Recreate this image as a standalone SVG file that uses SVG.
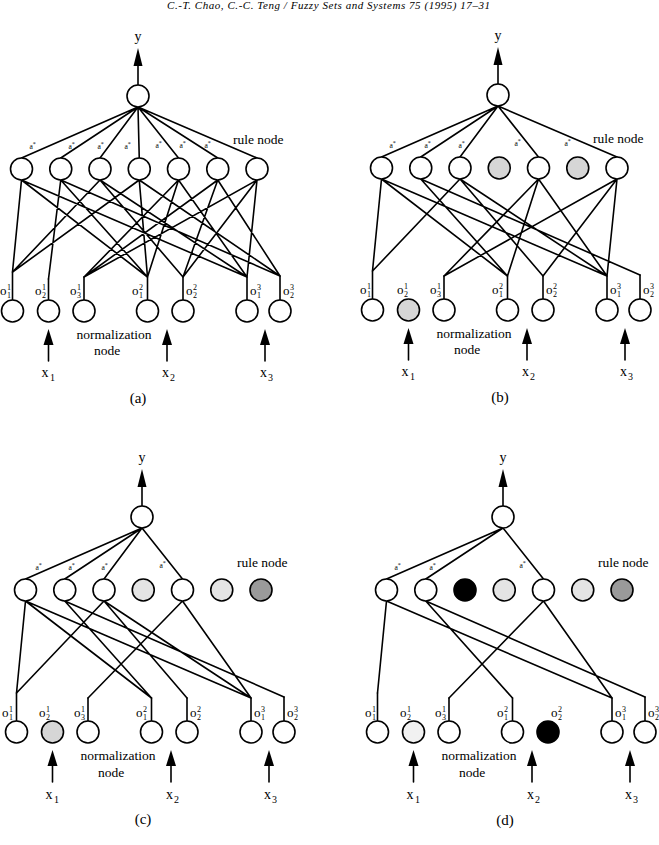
<svg xmlns="http://www.w3.org/2000/svg" width="659" height="845" viewBox="0 0 659 845">
<style>
.ln{stroke:#000;stroke-width:1.6;fill:none;stroke-linecap:round}
.nd{stroke:#000;stroke-width:1.6;fill:#fff}
.lt{fill:#d6d6d6}
.lt2{fill:#e4e4e4}
.lt3{fill:#f1f1f1}
.dk{fill:#9a9a9a}
.bk{fill:#000}
.ah{fill:#000;stroke:none}
.t{font-family:"Liberation Serif","Times New Roman",serif;fill:#000}
.big{font-size:14px}
.cap{font-size:15px}
.lbl{font-size:13.5px}
.o{font-size:13px}
.d{font-size:8px}
.s{font-size:10px}
.as{font-size:7.5px}
.ast{font-size:6px}
.hd{font-size:11px;font-style:italic}
</style>
<text class="t hd" x="167" y="9" textLength="323">C.-T. Chao, C.-C. Teng / Fuzzy Sets and Systems 75 (1995) 17–31</text>

<!-- ================= PANEL A ================= -->
<g id="panel-a">
<g id="a-connectors" class="ln">
<path d="M138,66V85 M138,107L21.5,158 M138,107L60.75,158 M138,107L100,158 M138,107L139.25,158 M138,107L178.5,158 M138,107L217.75,158 M138,107L257,158"/>
<path d="M21.5,180L12.5,272 M21.5,180L147.5,277 M21.5,180L247,277 M60.75,180L48.5,279 M60.75,180L147.5,277 M60.75,180L280,276 M100,180L12.5,272 M100,180L183,277 M100,180L247,277 M139.25,180L12.5,272 M139.25,180L147.5,277 M139.25,180L280,276 M178.5,180L84,277 M178.5,180L147.5,277 M178.5,180L247,277 M217.75,180L84,277 M217.75,180L183,277 M217.75,180L280,276 M257,180L84,277 M257,180L183,277 M257,180L247,277"/>
<path d="M12.5,272V300 M48.5,279V300 M84,277V300 M147.5,277V300 M183,277V300 M247,277V300 M280,276V300"/>
<path d="M48.5,345V361 M167,345V361 M265,345V361"/>
<polygon class="ah" points="138,48 133.5,66 142.5,66"/>
<polygon class="ah" points="48.5,329 43.5,345 53.5,345"/>
<polygon class="ah" points="167,329 162,345 172,345"/>
<polygon class="ah" points="265,329 260,345 270,345"/>
</g>
<g id="a-weights">
<text class="t as" x="29.5" y="149">a<tspan class="ast" dy="-3.5">*</tspan></text>
<text class="t as" x="68.5" y="149">a<tspan class="ast" dy="-3.5">*</tspan></text>
<text class="t as" x="97.5" y="149">a<tspan class="ast" dy="-3.5">*</tspan></text>
<text class="t as" x="124.5" y="149">a<tspan class="ast" dy="-3.5">*</tspan></text>
<text class="t as" x="155.5" y="148">a<tspan class="ast" dy="-3.5">*</tspan></text>
<text class="t as" x="179.5" y="148">a<tspan class="ast" dy="-3.5">*</tspan></text>
<text class="t as" x="204.5" y="148">a<tspan class="ast" dy="-3.5">*</tspan></text>
</g>
<g id="a-out"><circle class="nd" cx="138" cy="96" r="11"/><text class="t big" x="138" y="41" text-anchor="middle">y</text></g>
<g id="a-r1"><circle class="nd" cx="21.5" cy="169" r="11"/></g>
<g id="a-r2"><circle class="nd" cx="60.75" cy="169" r="11"/></g>
<g id="a-r3"><circle class="nd" cx="100" cy="169" r="11"/></g>
<g id="a-r4"><circle class="nd" cx="139.25" cy="169" r="11"/></g>
<g id="a-r5"><circle class="nd" cx="178.5" cy="169" r="11"/></g>
<g id="a-r6"><circle class="nd" cx="217.75" cy="169" r="11"/></g>
<g id="a-r7"><circle class="nd" cx="257" cy="169" r="11"/><text class="t lbl" x="233" y="144">rule node</text></g>
<g id="a-o11"><circle class="nd" cx="12.5" cy="311" r="11"/><text class="t o" x="0" y="295">o<tspan class="d" x="7" y="289.5">1</tspan><tspan class="d" x="7" y="297.5">1</tspan></text></g>
<g id="a-o21"><circle class="nd" cx="48.5" cy="311" r="11"/><text class="t o" x="35" y="295">o<tspan class="d" x="42" y="289.5">1</tspan><tspan class="d" x="42" y="297.5">2</tspan></text></g>
<g id="a-o31"><circle class="nd" cx="84" cy="311" r="11"/><text class="t o" x="70" y="295">o<tspan class="d" x="77" y="289.5">1</tspan><tspan class="d" x="77" y="297.5">3</tspan></text></g>
<g id="a-o12"><circle class="nd" cx="147.5" cy="311" r="11"/><text class="t o" x="132" y="295">o<tspan class="d" x="139" y="289.5">2</tspan><tspan class="d" x="139" y="297.5">1</tspan></text></g>
<g id="a-o22"><circle class="nd" cx="183" cy="311" r="11"/><text class="t o" x="186" y="295">o<tspan class="d" x="193" y="289.5">2</tspan><tspan class="d" x="193" y="297.5">2</tspan></text></g>
<g id="a-o13"><circle class="nd" cx="247" cy="311" r="11"/><text class="t o" x="250" y="295">o<tspan class="d" x="257" y="289.5">3</tspan><tspan class="d" x="257" y="297.5">1</tspan></text></g>
<g id="a-o23"><circle class="nd" cx="280" cy="311" r="11"/><text class="t o" x="283" y="295">o<tspan class="d" x="290" y="289.5">3</tspan><tspan class="d" x="290" y="297.5">2</tspan></text></g>
<g id="a-texts">
<text class="t lbl" x="114" y="339" text-anchor="middle">normalization</text>
<text class="t lbl" x="107" y="355" text-anchor="middle">node</text>
<text class="t big" x="41.5" y="377">x<tspan class="s" x="50" y="381">1</tspan></text>
<text class="t big" x="162" y="377">x<tspan class="s" x="170" y="381">2</tspan></text>
<text class="t big" x="260" y="377">x<tspan class="s" x="268" y="381">3</tspan></text>
<text class="t cap" x="138" y="403" text-anchor="middle">(a)</text>
</g>
</g>

<!-- ================= PANEL B ================= -->
<g id="panel-b" transform="translate(360,-1)">
<g id="b-connectors" class="ln">
<path d="M138,66V85 M138,107L21.5,158 M138,107L60.75,158 M138,107L100,158 M138,107L178.5,158 M138,107L257,158"/>
<path d="M21.5,180L12.5,272 M21.5,180L147.5,277 M21.5,180L247,277 M60.75,180L147.5,277 M60.75,180L280,276 M100,180L12.5,272 M100,180L183,277 M100,180L247,277 M178.5,180L84,277 M178.5,180L147.5,277 M178.5,180L247,277 M257,180L84,277 M257,180L183,277 M257,180L247,277"/>
<path d="M12.5,272V300 M84,277V300 M147.5,277V300 M183,277V300 M247,277V300 M280,276V300"/>
<path d="M48.5,345V361 M167,345V361 M265,345V361"/>
<polygon class="ah" points="138,48 133.5,66 142.5,66"/>
<polygon class="ah" points="48.5,329 43.5,345 53.5,345"/>
<polygon class="ah" points="167,329 162,345 172,345"/>
<polygon class="ah" points="265,329 260,345 270,345"/>
</g>
<g id="b-weights">
<text class="t as" x="29.5" y="149">a<tspan class="ast" dy="-3.5">*</tspan></text>
<text class="t as" x="64.5" y="149">a<tspan class="ast" dy="-3.5">*</tspan></text>
<text class="t as" x="98.5" y="149">a<tspan class="ast" dy="-3.5">*</tspan></text>
<text class="t as" x="154.5" y="147">a<tspan class="ast" dy="-3.5">*</tspan></text>
<text class="t as" x="204.5" y="147">a<tspan class="ast" dy="-3.5">*</tspan></text>
</g>
<g id="b-out"><circle class="nd" cx="138" cy="96" r="11"/><text class="t big" x="138" y="41" text-anchor="middle">y</text></g>
<g id="b-r1"><circle class="nd" cx="21.5" cy="169" r="11"/></g>
<g id="b-r2"><circle class="nd" cx="60.75" cy="169" r="11"/></g>
<g id="b-r3"><circle class="nd" cx="100" cy="169" r="11"/></g>
<g id="b-r4"><circle class="nd lt" cx="139.25" cy="169" r="11"/></g>
<g id="b-r5"><circle class="nd" cx="178.5" cy="169" r="11"/></g>
<g id="b-r6"><circle class="nd lt" cx="217.75" cy="169" r="11"/></g>
<g id="b-r7"><circle class="nd" cx="257" cy="169" r="11"/><text class="t lbl" x="233" y="144">rule node</text></g>
<g id="b-o11"><circle class="nd" cx="12.5" cy="311" r="11"/><text class="t o" x="0" y="295">o<tspan class="d" x="7" y="289.5">1</tspan><tspan class="d" x="7" y="297.5">1</tspan></text></g>
<g id="b-o21"><circle class="nd lt" cx="48.5" cy="311" r="11"/><text class="t o" x="37" y="295">o<tspan class="d" x="44" y="289.5">1</tspan><tspan class="d" x="44" y="297.5">2</tspan></text></g>
<g id="b-o31"><circle class="nd" cx="84" cy="311" r="11"/><text class="t o" x="70" y="295">o<tspan class="d" x="77" y="289.5">1</tspan><tspan class="d" x="77" y="297.5">3</tspan></text></g>
<g id="b-o12"><circle class="nd" cx="147.5" cy="311" r="11"/><text class="t o" x="132" y="295">o<tspan class="d" x="139" y="289.5">2</tspan><tspan class="d" x="139" y="297.5">1</tspan></text></g>
<g id="b-o22"><circle class="nd" cx="183" cy="311" r="11"/><text class="t o" x="186" y="295">o<tspan class="d" x="193" y="289.5">2</tspan><tspan class="d" x="193" y="297.5">2</tspan></text></g>
<g id="b-o13"><circle class="nd" cx="247" cy="311" r="11"/><text class="t o" x="250" y="295">o<tspan class="d" x="257" y="289.5">3</tspan><tspan class="d" x="257" y="297.5">1</tspan></text></g>
<g id="b-o23"><circle class="nd" cx="280" cy="311" r="11"/><text class="t o" x="283" y="295">o<tspan class="d" x="290" y="289.5">3</tspan><tspan class="d" x="290" y="297.5">2</tspan></text></g>
<g id="b-texts">
<text class="t lbl" x="114" y="339" text-anchor="middle">normalization</text>
<text class="t lbl" x="107" y="355" text-anchor="middle">node</text>
<text class="t big" x="41.5" y="377">x<tspan class="s" x="50" y="381">1</tspan></text>
<text class="t big" x="162" y="377">x<tspan class="s" x="170" y="381">2</tspan></text>
<text class="t big" x="260" y="377">x<tspan class="s" x="268" y="381">3</tspan></text>
<text class="t cap" x="140" y="403" text-anchor="middle">(b)</text>
</g>
</g>

<!-- ================= PANEL C ================= -->
<g id="panel-c" transform="translate(4,421)">
<g id="c-connectors" class="ln">
<path d="M138,66V85 M138,107L21.5,158 M138,107L60.75,158 M138,107L100,158 M138,107L178.5,158"/>
<path d="M21.5,180L12.5,272 M21.5,180L147.5,277 M21.5,180L247,277 M60.75,180L147.5,277 M60.75,180L280,276 M100,180L12.5,272 M100,180L183,277 M100,180L247,277 M178.5,180L84,277 M178.5,180L247,277"/>
<path d="M12.5,272V300 M84,277V300 M147.5,277V300 M183,277V300 M247,277V300 M280,276V300"/>
<path d="M48.5,345V361 M167,345V361 M265,345V361"/>
<polygon class="ah" points="138,48 133.5,66 142.5,66"/>
<polygon class="ah" points="48.5,329 43.5,345 53.5,345"/>
<polygon class="ah" points="167,329 162,345 172,345"/>
<polygon class="ah" points="265,329 260,345 270,345"/>
</g>
<g id="c-weights">
<text class="t as" x="31.5" y="149">a<tspan class="ast" dy="-3.5">*</tspan></text>
<text class="t as" x="64.5" y="149">a<tspan class="ast" dy="-3.5">*</tspan></text>
<text class="t as" x="97.5" y="149">a<tspan class="ast" dy="-3.5">*</tspan></text>
<text class="t as" x="155.5" y="147">a<tspan class="ast" dy="-3.5">*</tspan></text>
</g>
<g id="c-out"><circle class="nd" cx="138" cy="96" r="11"/><text class="t big" x="138" y="41" text-anchor="middle">y</text></g>
<g id="c-r1"><circle class="nd" cx="21.5" cy="169" r="11"/></g>
<g id="c-r2"><circle class="nd" cx="60.75" cy="169" r="11"/></g>
<g id="c-r3"><circle class="nd" cx="100" cy="169" r="11"/></g>
<g id="c-r4"><circle class="nd lt2" cx="139.25" cy="169" r="11"/></g>
<g id="c-r5"><circle class="nd" cx="178.5" cy="169" r="11"/></g>
<g id="c-r6"><circle class="nd lt2" cx="217.75" cy="169" r="11"/></g>
<g id="c-r7"><circle class="nd dk" cx="257" cy="169" r="11"/><text class="t lbl" x="233" y="146">rule node</text></g>
<g id="c-o11"><circle class="nd" cx="12.5" cy="311" r="11"/><text class="t o" x="-2" y="296">o<tspan class="d" x="5" y="290.5">1</tspan><tspan class="d" x="5" y="298.5">1</tspan></text></g>
<g id="c-o21"><circle class="nd lt" cx="48.5" cy="311" r="11"/><text class="t o" x="35" y="296">o<tspan class="d" x="42" y="290.5">1</tspan><tspan class="d" x="42" y="298.5">2</tspan></text></g>
<g id="c-o31"><circle class="nd" cx="84" cy="311" r="11"/><text class="t o" x="70" y="296">o<tspan class="d" x="77" y="290.5">1</tspan><tspan class="d" x="77" y="298.5">3</tspan></text></g>
<g id="c-o12"><circle class="nd" cx="147.5" cy="311" r="11"/><text class="t o" x="132" y="296">o<tspan class="d" x="139" y="290.5">2</tspan><tspan class="d" x="139" y="298.5">1</tspan></text></g>
<g id="c-o22"><circle class="nd" cx="183" cy="311" r="11"/><text class="t o" x="186" y="296">o<tspan class="d" x="193" y="290.5">2</tspan><tspan class="d" x="193" y="298.5">2</tspan></text></g>
<g id="c-o13"><circle class="nd" cx="247" cy="311" r="11"/><text class="t o" x="250" y="296">o<tspan class="d" x="257" y="290.5">3</tspan><tspan class="d" x="257" y="298.5">1</tspan></text></g>
<g id="c-o23"><circle class="nd" cx="280" cy="311" r="11"/><text class="t o" x="283" y="296">o<tspan class="d" x="290" y="290.5">3</tspan><tspan class="d" x="290" y="298.5">2</tspan></text></g>
<g id="c-texts">
<text class="t lbl" x="114" y="339" text-anchor="middle">normalization</text>
<text class="t lbl" x="107" y="356" text-anchor="middle">node</text>
<text class="t big" x="41.5" y="378">x<tspan class="s" x="50" y="382">1</tspan></text>
<text class="t big" x="162" y="378">x<tspan class="s" x="170" y="382">2</tspan></text>
<text class="t big" x="260" y="378">x<tspan class="s" x="268" y="382">3</tspan></text>
<text class="t cap" x="139" y="403" text-anchor="middle">(c)</text>
</g>
</g>

<!-- ================= PANEL D ================= -->
<g id="panel-d" transform="translate(365,421)">
<g id="d-connectors" class="ln">
<path d="M138,66V85 M138,107L21.5,158 M138,107L60.75,158 M138,107L178.5,158"/>
<path d="M21.5,180L12.5,272 M21.5,180L247,277 M60.75,180L147.5,277 M60.75,180L280,276 M178.5,180L84,277 M178.5,180L247,277"/>
<path d="M12.5,272V300 M84,277V300 M147.5,277V300 M247,277V300 M280,276V300"/>
<path d="M48.5,345V361 M167,345V361 M265,345V361"/>
<polygon class="ah" points="138,48 133.5,66 142.5,66"/>
<polygon class="ah" points="48.5,329 43.5,345 53.5,345"/>
<polygon class="ah" points="167,329 162,345 172,345"/>
<polygon class="ah" points="265,329 260,345 270,345"/>
</g>
<g id="d-weights">
<text class="t as" x="29.5" y="149">a<tspan class="ast" dy="-3.5">*</tspan></text>
<text class="t as" x="64.5" y="149">a<tspan class="ast" dy="-3.5">*</tspan></text>
<text class="t as" x="154.5" y="147">a<tspan class="ast" dy="-3.5">*</tspan></text>
</g>
<g id="d-out"><circle class="nd" cx="138" cy="96" r="11"/><text class="t big" x="138" y="41" text-anchor="middle">y</text></g>
<g id="d-r1"><circle class="nd" cx="21.5" cy="169" r="11"/></g>
<g id="d-r2"><circle class="nd" cx="60.75" cy="169" r="11"/></g>
<g id="d-r3"><circle class="nd bk" cx="100" cy="169" r="11"/></g>
<g id="d-r4"><circle class="nd lt2" cx="139.25" cy="169" r="11"/></g>
<g id="d-r5"><circle class="nd" cx="178.5" cy="169" r="11"/></g>
<g id="d-r6"><circle class="nd lt2" cx="217.75" cy="169" r="11"/></g>
<g id="d-r7"><circle class="nd dk" cx="257" cy="169" r="11"/><text class="t lbl" x="233" y="146">rule node</text></g>
<g id="d-o11"><circle class="nd" cx="12.5" cy="311" r="11"/><text class="t o" x="0" y="296">o<tspan class="d" x="7" y="290.5">1</tspan><tspan class="d" x="7" y="298.5">1</tspan></text></g>
<g id="d-o21"><circle class="nd lt3" cx="48.5" cy="311" r="11"/><text class="t o" x="35" y="296">o<tspan class="d" x="42" y="290.5">1</tspan><tspan class="d" x="42" y="298.5">2</tspan></text></g>
<g id="d-o31"><circle class="nd" cx="84" cy="311" r="11"/><text class="t o" x="70" y="296">o<tspan class="d" x="77" y="290.5">1</tspan><tspan class="d" x="77" y="298.5">3</tspan></text></g>
<g id="d-o12"><circle class="nd" cx="147.5" cy="311" r="11"/><text class="t o" x="132" y="296">o<tspan class="d" x="139" y="290.5">2</tspan><tspan class="d" x="139" y="298.5">1</tspan></text></g>
<g id="d-o22"><circle class="nd bk" cx="183" cy="311" r="11"/><text class="t o" x="186" y="296">o<tspan class="d" x="193" y="290.5">2</tspan><tspan class="d" x="193" y="298.5">2</tspan></text></g>
<g id="d-o13"><circle class="nd" cx="247" cy="311" r="11"/><text class="t o" x="250" y="296">o<tspan class="d" x="257" y="290.5">3</tspan><tspan class="d" x="257" y="298.5">1</tspan></text></g>
<g id="d-o23"><circle class="nd" cx="280" cy="311" r="11"/><text class="t o" x="283" y="296">o<tspan class="d" x="290" y="290.5">3</tspan><tspan class="d" x="290" y="298.5">2</tspan></text></g>
<g id="d-texts">
<text class="t lbl" x="114" y="339" text-anchor="middle">normalization</text>
<text class="t lbl" x="107" y="356" text-anchor="middle">node</text>
<text class="t big" x="41.5" y="378">x<tspan class="s" x="50" y="382">1</tspan></text>
<text class="t big" x="162" y="378">x<tspan class="s" x="170" y="382">2</tspan></text>
<text class="t big" x="260" y="378">x<tspan class="s" x="268" y="382">3</tspan></text>
<text class="t cap" x="140" y="404" text-anchor="middle">(d)</text>
</g>
</g>
</svg>
